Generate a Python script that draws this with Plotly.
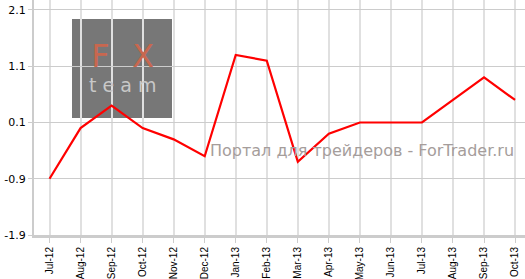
import plotly.graph_objects as go

categories = ["Jul-12", "Aug-12", "Sep-12", "Oct-12", "Nov-12", "Dec-12", "Jan-13", "Feb-13",
              "Mar-13", "Apr-13", "May-13", "Jun-13", "Jul-13", "Aug-13", "Sep-13", "Oct-13"]
values = [-0.9, 0.0, 0.4, 0.0, -0.2, -0.5, 1.3, 1.2, -0.6, -0.1, 0.1, 0.1, 0.1, 0.5, 0.9, 0.5]
y_ticks = [2.1, 1.1, 0.1, -0.9, -1.9]
y_tick_labels = ["2.1", "1.1", "0.1", "-0.9", "-1.9"]

fig = go.Figure()
fig.add_trace(go.Scatter(x=categories, y=values, mode="lines",
                         line=dict(color="#ff0000", width=2.2), hoverinfo="skip"))

PW, PH, L = 491, 235, 34

def px(x):
    return (x - L) / PW

def py(y):
    return (PH - y) / PH

# watermark box (below grid)
fig.add_shape(type="rect", xref="paper", yref="paper",
              x0=px(72), x1=px(172), y0=py(118), y1=py(19),
              fillcolor="#777777", line=dict(width=0), layer="below")

fig.add_annotation(
    text=("<span style='font-size:32px;color:#c8674f'>F\u2002\u2009X</span><br>"
          "<span style='font-size:19px;color:#c8c8c8'>t e a m</span>"),
    xref="paper", yref="paper", x=px(122), y=py(67), showarrow=False,
    font=dict(family="DejaVu Sans", size=19, color="#c8c8c8"),
    xanchor="center", yanchor="middle", align="center")
fig.add_annotation(text="Портал для трейдеров - ForTrader.ru", xref="paper", yref="paper",
                   x=px(208), y=py(150), showarrow=False,
                   font=dict(family="DejaVu Sans", size=16, color="#a59d9b"),
                   xanchor="left", yanchor="middle")

fig.update_layout(
    width=525, height=279,
    margin=dict(l=34, r=0, t=0, b=44),
    paper_bgcolor="white", plot_bgcolor="white",
    showlegend=False,
    font=dict(family="DejaVu Sans", color="black"),
    xaxis=dict(
        type="category", range=[-0.5, 15.32], automargin=False,
        showgrid=True, gridcolor="#e0e0e0", gridwidth=2,
        showline=True, linecolor="#cccccc", linewidth=3,
        ticks="outside", ticklen=5, tickcolor="#cccccc", tickwidth=1,
        tickangle=-90, tickfont=dict(family="Liberation Sans", size=10, color="black"),
        zeroline=False, fixedrange=True,
    ),
    yaxis=dict(
        range=[-1.9, 2.277], automargin=False,
        tickvals=y_ticks, ticktext=y_tick_labels,
        showgrid=True, gridcolor="#cccccc", gridwidth=1,
        showline=True, linecolor="#cccccc", linewidth=2,
        ticks="outside", ticklen=4, tickcolor="#cccccc",
        tickfont=dict(size=11, color="black"),
        zeroline=False, fixedrange=True,
    ),
)

fig.write_html("out.html", config={"displayModeBar": False})
